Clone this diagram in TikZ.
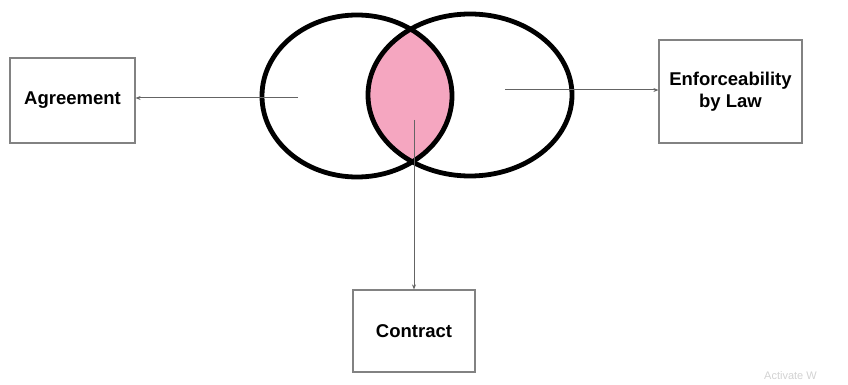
\documentclass[tikz,border=0pt]{standalone}
\usepackage{fontspec}
\setmainfont{Liberation Sans}
\usetikzlibrary{arrows.meta,shapes.geometric}
\definecolor{lenspink}{RGB}{245,166,192}
\definecolor{boxgray}{RGB}{130,130,130}
\definecolor{linkgray}{RGB}{100,100,100}
\tikzset{
  labelbox/.style={draw=boxgray, line width=1.2pt, align=center, inner sep=0pt,
    font=\fontsize{18.5}{22}\selectfont\bfseries},
  ring/.style={draw=black, line width=4.8pt},
  link/.style={draw=linkgray, line width=1pt, -{Stealth[length=5pt,width=4pt]}}
}
\begin{document}
\begin{tikzpicture}[x=1pt,y=-1pt]
\useasboundingbox (0,0) rectangle (848,385);
% lens fill
\begin{scope}
  \clip (470,95) ellipse [x radius=102, y radius=81];
  \fill[lenspink] (357,96) ellipse [x radius=95, y radius=81];
\end{scope}
% ellipses
\node[ring, ellipse, minimum width=190pt, minimum height=162pt, inner sep=0pt] (left) at (357,96) {};
\node[ring, ellipse, minimum width=204pt, minimum height=162pt, inner sep=0pt] (right) at (470,95) {};
% boxes
\node[labelbox, minimum width=125pt, minimum height=85pt] (agree) at (72.5,100.5) {Agreement};
\node[labelbox, minimum width=143pt, minimum height=103pt] (enf) at (730.5,91.5) {Enforceability\\by Law};
\node[labelbox, minimum width=122pt, minimum height=82pt] (contract) at (414,331) {Contract};
% connector starts
\coordinate (ls) at (298,98);
\coordinate (rs) at (505,90);
\coordinate (ds) at (414,120);
\draw[link] (ls) -- (ls -| agree.east);
\draw[link] (rs) -- (rs -| enf.west);
\draw[link] (ds) -- (contract.north);
% watermark
\node[text=gray!35, font=\fontsize{11}{13}\selectfont, anchor=base west, inner sep=0pt] (wm) at (764,379) {Activate W};
\end{tikzpicture}
\end{document}
